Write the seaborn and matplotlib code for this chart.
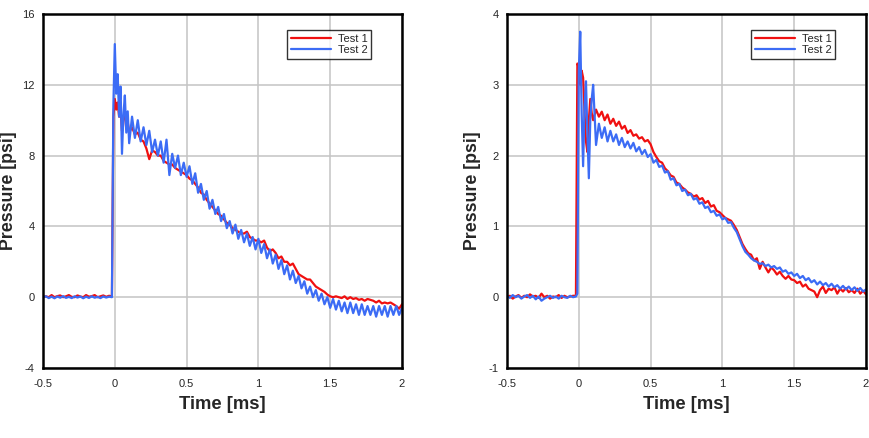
import numpy as np
import pandas as pd
import seaborn as sns
import matplotlib.pyplot as plt

# time grid shared by both panels (ms)
time_ms = np.round(np.concatenate([
    np.arange(-0.5, -0.019, 0.02),
    np.arange(-0.01, 0.1001, 0.01),
    np.arange(0.12, 2.0001, 0.02),
]), 3)

# --- panel (a): C1 ---
c1_test1 = [
    0.0, 0.05, 0.0, 0.12, 0.0, 0.06, 0.1, 0.0, 0.05, 0.12, 0.02, 0.0, 0.1, 0.04, 0.0, 0.12, 0.03, 0.06, 0.12, 0.0, 0.05, 0.1, 0.02, 0.08, 0.05,
    10.2, 11.2, 10.6, 11.0, 10.2, 10.6, 9.4, 10.2, 10.4, 9.5, 9.9, 9.3,
    9.6, 9.2, 9.3, 8.9, 8.8, 8.4, 7.8, 8.3, 8.2, 8.0, 8.0, 7.7, 7.6, 7.5, 7.5, 7.3, 7.2, 7.1, 7.0, 6.9,
    6.7, 6.6, 6.4, 6.2, 5.9, 5.8, 5.5, 5.3, 5.1, 4.9, 4.7, 4.6, 4.4, 4.2, 4.1, 3.9, 3.8, 3.7, 3.6, 3.6,
    3.7, 3.4, 3.3, 3.2, 3.2, 3.1, 3.2, 2.8, 2.6, 2.7, 2.5, 2.2, 2.3, 2.0, 2.0, 1.8, 1.9, 1.6, 1.3, 1.2,
    1.1, 1.0, 1.0, 0.8, 0.6, 0.5, 0.4, 0.3, 0.15, 0.05, 0.0, 0.05, 0.0, -0.05, 0.05, -0.1, 0.0, -0.1, -0.05, -0.15,
    -0.1, -0.2, -0.1, -0.15, -0.2, -0.3, -0.2, -0.35, -0.3, -0.35, -0.3, -0.4, -0.5, -0.65, -0.4,
]
c1_test2 = [
    0.0, 0.05, -0.05, 0.03, -0.06, 0.04, -0.03, 0.06, -0.04, 0.02, -0.05, 0.05, -0.02, 0.04, -0.06, 0.03, -0.04, 0.05, -0.03, 0.02, -0.05, 0.04, -0.02, 0.03, 0.0,
    10.8, 14.3, 11.5, 12.6, 10.2, 11.9, 8.1, 10.3, 11.4, 9.3, 10.5, 8.7,
    10.2, 9.0, 10.0, 8.8, 9.6, 8.6, 9.4, 8.2, 8.9, 8.0, 8.8, 7.6, 8.9, 6.9, 8.1, 7.3, 8.0, 6.9, 7.6, 6.8,
    7.4, 6.4, 7.0, 5.9, 6.4, 5.5, 6.0, 5.0, 5.5, 4.7, 5.1, 4.3, 4.7, 3.9, 4.3, 3.6, 4.1, 3.3, 3.8, 3.1,
    3.6, 2.9, 3.4, 2.7, 3.3, 2.5, 3.0, 2.2, 2.7, 1.9, 2.4, 1.6, 2.1, 1.3, 1.8, 1.0, 1.5, 0.8, 1.2, 0.5,
    0.9, 0.2, 0.6, 0.0, 0.4, -0.2, 0.2, -0.4, 0.0, -0.6, -0.1, -0.7, -0.2, -0.8, -0.3, -0.9, -0.3, -0.9, -0.4, -1.0,
    -0.4, -1.0, -0.5, -1.0, -0.5, -1.1, -0.5, -1.0, -0.5, -1.1, -0.5, -1.0, -0.5, -1.0, -0.6,
]

# --- panel (b): C2 ---
c2_test1 = [
    0.0, 0.02, -0.02, 0.01, 0.03, -0.01, 0.02, 0.0, 0.04, 0.01, 0.02, -0.01, 0.05, 0.0, 0.02, -0.02, 0.01, 0.0, 0.03, -0.01, 0.02, 0.0, 0.01, 0.02, 0.02,
    3.3, 3.25, 3.0, 3.2, 3.1, 2.6, 2.2, 2.05, 2.5, 2.8, 2.6, 2.5,
    2.65, 2.55, 2.62, 2.5, 2.58, 2.45, 2.52, 2.42, 2.48, 2.38, 2.42, 2.32, 2.36, 2.28, 2.3, 2.24, 2.26, 2.2, 2.22, 2.16,
    2.05, 1.98, 1.92, 1.9, 1.82, 1.78, 1.72, 1.7, 1.62, 1.6, 1.55, 1.52, 1.48, 1.46, 1.42, 1.44, 1.38, 1.4, 1.33, 1.36,
    1.28, 1.3, 1.22, 1.2, 1.16, 1.12, 1.1, 1.08, 1.02, 0.95, 0.85, 0.75, 0.68, 0.62, 0.6, 0.52, 0.55, 0.4, 0.5, 0.42,
    0.35, 0.42, 0.38, 0.32, 0.36, 0.3, 0.26, 0.3, 0.25, 0.24, 0.2, 0.22, 0.15, 0.18, 0.12, 0.1, 0.08, 0.0, 0.1, 0.15,
    0.06, 0.12, 0.1, 0.14, 0.05, 0.12, 0.08, 0.13, 0.07, 0.1, 0.06, 0.12, 0.05, 0.09, 0.04,
]
c2_test2 = [
    0.02, -0.01, 0.03, 0.0, 0.02, -0.02, 0.01, 0.03, -0.01, 0.02, -0.03, 0.01, -0.05, -0.02, 0.0, 0.02, -0.01, 0.01, -0.02, 0.02, 0.0, -0.01, 0.02, 0.0, 0.01,
    0.05, 3.2, 3.75, 2.6, 1.85, 2.7, 3.05, 2.3, 1.68, 2.5, 2.8, 3.0,
    2.15, 2.45, 2.25, 2.4, 2.2, 2.35, 2.2, 2.3, 2.15, 2.25, 2.12, 2.2, 2.1, 2.18, 2.06, 2.12, 2.02, 2.08, 1.98, 2.02,
    1.9, 1.94, 1.84, 1.86, 1.76, 1.78, 1.66, 1.68, 1.58, 1.6, 1.5, 1.52, 1.44, 1.46, 1.38, 1.4, 1.32, 1.34, 1.26, 1.28,
    1.2, 1.22, 1.15, 1.17, 1.1, 1.12, 1.05, 1.06, 0.98, 0.92, 0.82, 0.72, 0.64, 0.6, 0.55, 0.52, 0.5, 0.47, 0.48, 0.44,
    0.46, 0.42, 0.44, 0.4, 0.42, 0.36, 0.38, 0.33, 0.35, 0.3, 0.33, 0.27, 0.3, 0.24, 0.27, 0.21, 0.24, 0.18, 0.22, 0.17,
    0.2, 0.15, 0.19, 0.14, 0.17, 0.12, 0.16, 0.11, 0.15, 0.1, 0.14, 0.09, 0.13, 0.08, 0.11,
]

panels = [
    dict(test1=c1_test1, test2=c1_test2, ylim=(-4, 16), yticks=[-4, 0, 4, 8, 12, 16], left=43),
    dict(test1=c2_test1, test2=c2_test2, ylim=(-1, 4), yticks=[-1, 0, 1, 2, 3, 4], left=507),
]
xticks = [-0.5, 0, 0.5, 1, 1.5, 2]
xtick_labels = ["-0.5", "0", "0.5", "1", "1.5", "2"]
red = "#f01010"
blue = "#3c6cf5"

sns.set_style("white")
plt.rcParams['font.family'] = ['Liberation Sans', 'DejaVu Sans']

W, H = 870, 438
fig = plt.figure(figsize=(W / 100, H / 100), dpi=100)

for p in panels:
    assert len(p["test1"]) == len(time_ms) and len(p["test2"]) == len(time_ms)
    ax = fig.add_axes([p["left"] / W, (H - 368) / H, 359 / W, 354 / H])
    df = pd.DataFrame({"t": time_ms, "Test 1": p["test1"], "Test 2": p["test2"]})
    sns.lineplot(data=df, x="t", y="Test 1", ax=ax, color=red, lw=1.6, label="Test 1")
    sns.lineplot(data=df, x="t", y="Test 2", ax=ax, color=blue, lw=1.6, label="Test 2")

    ax.set_xlim(-0.5, 2)
    ax.set_ylim(*p["ylim"])
    ax.set_xticks(xticks)
    ax.set_xticklabels(xtick_labels)
    ax.set_yticks(p["yticks"])
    ax.set_yticklabels([str(v) for v in p["yticks"]])
    ax.grid(True, color="#c4c4c4", lw=1.1)
    ax.set_axisbelow(True)
    ax.tick_params(length=0, labelsize=8, pad=8)
    ax.tick_params(axis="y", pad=6)
    for s in ax.spines.values():
        s.set_visible(True)
        s.set_color("black")
        s.set_linewidth(1.8)
    ax.set_xlabel("Time [ms]", fontsize=13.2, fontweight="bold", labelpad=5)
    ax.set_ylabel("Pressure [psi]", fontsize=12.8, fontweight="bold")
    ax.yaxis.set_label_coords(-0.073, 0.5)

    leg = ax.legend(loc="upper right", bbox_to_anchor=(0.915, 0.955), fontsize=8,
                    frameon=True, fancybox=False, handlelength=3.6, borderpad=0.35,
                    labelspacing=0.1, handletextpad=0.6, borderaxespad=0)
    leg.get_frame().set_edgecolor("black")
    leg.get_frame().set_linewidth(1.0)

fig.savefig("out.png", dpi=100)
